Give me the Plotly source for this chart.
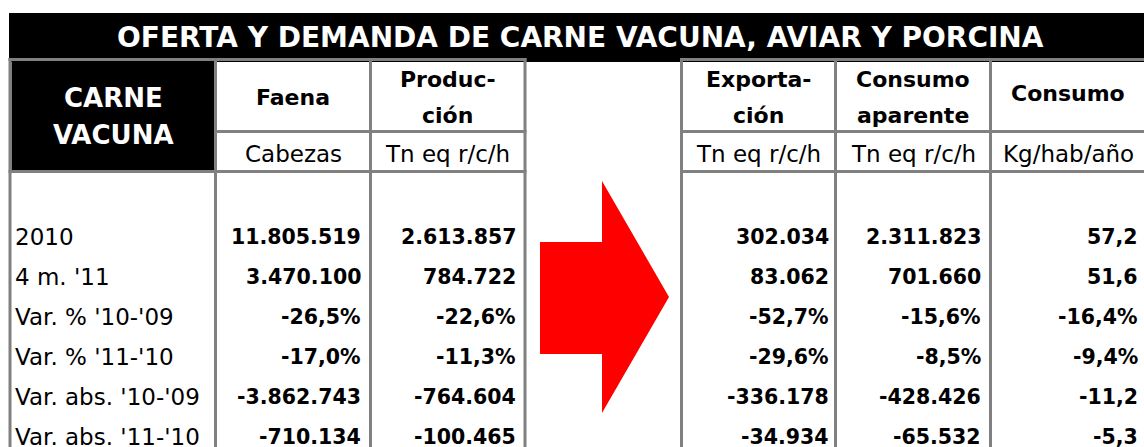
import plotly.graph_objects as go

# ---------------- data ----------------
title = "OFERTA Y DEMANDA DE CARNE VACUNA, AVIAR Y PORCINA"
corner_label = ["CARNE", "VACUNA"]
headers_line1 = ["Faena", "Produc-", "Exporta-", "Consumo", "Consumo"]
headers_line2 = ["", "ción", "ción", "aparente", ""]
units = ["Cabezas", "Tn eq r/c/h", "Tn eq r/c/h", "Tn eq r/c/h", "Kg/hab/año"]
row_labels = ["2010", "4 m. '11", "Var. % '10-'09", "Var. % '11-'10",
              "Var. abs. '10-'09", "Var. abs. '11-'10"]
row_kind = ["num", "num", "pct", "pct", "num", "num"]

faena = [11805519, 3470100, -26.5, -17.0, -3862743, -710134]
produccion = [2613857, 784722, -22.6, -11.3, -764604, -100465]
exportacion = [302034, 83062, -52.7, -29.6, -336178, -34934]
consumo_aparente = [2311823, 701660, -15.6, -8.5, -428426, -65532]
consumo_kg = [57.2, 51.6, -16.4, -9.4, -11.2, -5.3]
column_decimals = [0, 0, 0, 0, 1]
columns = [faena, produccion, exportacion, consumo_aparente, consumo_kg]


def fmt(v, kind, dec):
    if kind == "pct":
        s = f"{v:,.1f}%"
    else:
        s = f"{v:,.{dec}f}"
    return s.replace(",", "X").replace(".", ",").replace("X", ".")


# ---------------- layout constants ----------------
W, H = 1144, 447
FONT = "DejaVu Sans"
GRAY = "#808080"
grid_x = [10, 215.5, 370.5, 525, 681.5, 835.5, 990.5, 1146]
data_cols = [(1, 2), (2, 3), (4, 5), (5, 6), (6, 7)]
value_right_x = [363, 518, 831, 983, 1140]
row_y = [237, 277, 317, 357, 397, 436.5]

fig = go.Figure()
shapes = []
annotations = []

# title bar
shapes.append(dict(type="rect", x0=9, x1=W, y0=13, y1=62, fillcolor="black",
                   line=dict(width=0), layer="below"))
# corner black cell
shapes.append(dict(type="rect", x0=11.5, x1=214, y0=61, y1=170, fillcolor="black",
                   line=dict(width=0), layer="below"))
# red arrow
shapes.append(dict(type="path",
                   path="M540,242 L602,242 L602,181 L669,297 L602,413 L602,354 L540,354 Z",
                   fillcolor="#FF0000", line=dict(width=0), layer="below"))

# gridlines
left_end = grid_x[3] + 1.5
right_span = (grid_x[4] - 1.5, W)
for y, start in [(59.5, grid_x[0] - 1.5), (131.5, grid_x[1] - 1.5), (171.5, grid_x[0] - 1.5)]:
    for x0, x1 in [(start, left_end), right_span]:
        shapes.append(dict(type="line", x0=x0, x1=x1, y0=y, y1=y,
                           line=dict(color=GRAY, width=3), layer="above"))
for x in grid_x[:7]:
    shapes.append(dict(type="line", x0=x, x1=x, y0=58, y1=H + 2,
                       line=dict(color=GRAY, width=3), layer="above"))


def add_text(text, x, y, size, bold=False, color="black", xanchor="center"):
    annotations.append(dict(text=text, x=x, y=y, xref="x", yref="y",
                            showarrow=False, xanchor=xanchor, yanchor="middle",
                            font=dict(family=FONT, size=size, color=color,
                                      weight="bold" if bold else "normal")))


# title
add_text(title, 580, 37.5, 28, bold=True, color="white")
# corner label
add_text(corner_label[0], 113, 98, 26, bold=True, color="white")
add_text(corner_label[1], 113, 135, 26, bold=True, color="white")

# headers and units
for i, (a, b) in enumerate(data_cols):
    cx = (grid_x[a] + grid_x[b]) / 2
    if headers_line2[i]:
        add_text(headers_line1[i], cx, 79, 22, bold=True)
        add_text(headers_line2[i], cx, 115, 22, bold=True)
    else:
        add_text(headers_line1[i], cx, 97 if i == 0 else 93, 22, bold=True)
    add_text(units[i], cx, 153.5, 23)

# row labels
for j, lab in enumerate(row_labels):
    add_text(lab, 13, row_y[j], 23, xanchor="left")

# values
for i, col in enumerate(columns):
    for j, v in enumerate(col):
        add_text(fmt(v, row_kind[j], column_decimals[i]), value_right_x[i], row_y[j], 20.5,
                 bold=True, xanchor="right")

fig.update_layout(
    width=W, height=H, autosize=False,
    margin=dict(l=0, r=0, t=0, b=0),
    paper_bgcolor="white", plot_bgcolor="white",
    xaxis=dict(range=[0, W], visible=False, fixedrange=True),
    yaxis=dict(range=[H, 0], visible=False, fixedrange=True),
    shapes=shapes, annotations=annotations, showlegend=False,
)

fig.write_html("out.html", config={"displayModeBar": False},
               post_script="document.body.style.margin='0';")
